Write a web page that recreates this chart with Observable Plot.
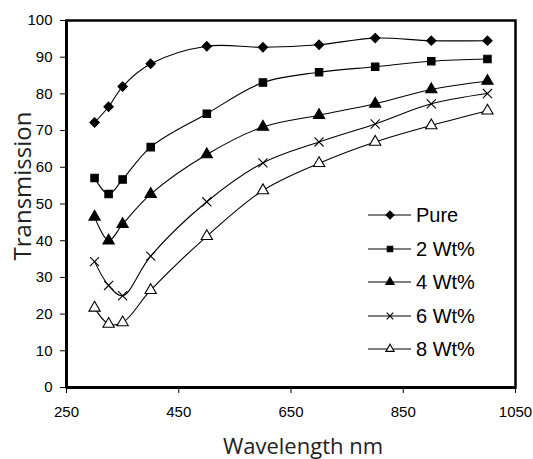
<!DOCTYPE html>
<html><head><meta charset="utf-8">
<script src="https://cdn.jsdelivr.net/npm/d3@7"></script>
<script src="https://cdn.jsdelivr.net/npm/@observablehq/plot@0.6"></script>
<style>body{margin:0;background:#fff}</style>
</head><body><div id="chart"></div>
<script>
const wavelengths = [300, 325, 350, 400, 500, 600, 700, 800, 900, 1000];
const seriesNames = ["Pure", "2 Wt%", "4 Wt%", "6 Wt%", "8 Wt%"];
const pure = [72.2, 76.5, 82.0, 88.2, 93.0, 92.7, 93.4, 95.2, 94.5, 94.5];
const wt2  = [57.1, 52.7, 56.7, 65.5, 74.6, 83.1, 85.9, 87.4, 88.9, 89.5];
const wt4  = [46.5, 40.0, 44.5, 52.7, 63.5, 71.0, 74.2, 77.3, 81.2, 83.5];
const wt6  = [34.3, 27.8, 25.0, 35.8, 50.6, 61.2, 66.9, 71.8, 77.3, 80.1];
const wt8  = [21.7, 17.3, 17.7, 26.5, 41.2, 53.7, 61.1, 66.9, 71.4, 75.4];
const xTicks = [250, 450, 650, 850, 1050];
const yTicks = [0, 10, 20, 30, 40, 50, 60, 70, 80, 90, 100];
const xTitle = "Wavelength nm";
const yTitle = "Transmission";

const symbols = ["diamond2", "square", "triangle", "times", "triangle"];
const fills = ["black", "black", "black", "black", "white"];
const allSeries = [pure, wt2, wt4, wt6, wt8];

const rows = [];
allSeries.forEach((vals, i) => vals.forEach((v, j) => rows.push({series: seriesNames[i], x: wavelengths[j], y: v})));

const W = 533, H = 459;
const plot = Plot.plot({
  width: W, height: H,
  marginTop: 20, marginRight: 18, marginBottom: 72, marginLeft: 66,
  style: {fontFamily: "'Liberation Sans', Arial, sans-serif", fontSize: "15px", color: "black", background: "white"},
  x: {domain: [250, 1050], label: null},
  y: {domain: [0, 100], label: null},
  symbol: {domain: seriesNames, range: symbols},
  color: {domain: seriesNames, range: fills},
  marks: [
    Plot.frame({stroke: "black", strokeWidth: 2.5}),
    Plot.ruleX([250], {stroke: "black", strokeWidth: 3}),
    Plot.ruleY([0], {stroke: "black", strokeWidth: 3}),
    Plot.axisX({ticks: xTicks, tickSize: 6, tickPadding: 13, fontSize: 15, label: null, tickFormat: d => String(d)}),
    Plot.axisY({ticks: yTicks, tickSize: 6, tickPadding: 8, fontSize: 15, label: null}),
    Plot.line(rows, {x: "x", y: "y", z: "series", stroke: "black", strokeWidth: 1.1, curve: "catmull-rom"}),
    Plot.dot(rows, {x: "x", y: "y", symbol: "series", fill: "series", stroke: "black", strokeWidth: 1.1, r: 4.2})
  ]
});
document.getElementById("chart").appendChild(plot);

const svg = d3.select(plot);
// axis titles
svg.append("text").text(xTitle)
  .attr("x", 303).attr("y", 454).attr("text-anchor", "middle")
  .style("font-family", "'Open Sans', sans-serif").style("font-size", "22px").attr("fill", "#222");
svg.append("text").text(yTitle)
  .attr("transform", "translate(31,186) rotate(-90)").attr("text-anchor", "middle")
  .style("font-family", "'Open Sans', sans-serif").style("font-size", "24px").attr("fill", "#222");

// legend
const legY = [215, 249, 282, 316, 349];
const lg = svg.append("g");
seriesNames.forEach((name, i) => {
  const y = legY[i];
  lg.append("line").attr("x1", 368).attr("x2", 411).attr("y1", y).attr("y2", y).attr("stroke", "black").attr("stroke-width", 1.1);
  const symType = {diamond2: d3.symbolDiamond2, square: d3.symbolSquare, triangle: d3.symbolTriangle, times: d3.symbolTimes}[symbols[i]];
  lg.append("path").attr("d", d3.symbol(symType, i === 0 ? 40 : 30)())
    .attr("transform", `translate(390,${y})`)
    .attr("fill", symbols[i] === "times" ? "none" : fills[i]).attr("stroke", "black").attr("stroke-width", 1.1);
  lg.append("text").text(name).attr("x", 416).attr("y", y).attr("dy", "0.36em")
    .attr("text-anchor", "start")
    .style("font-family", "'Liberation Sans', Arial, sans-serif").style("font-size", "20px").attr("fill", "black");
});
</script>
</body></html>
